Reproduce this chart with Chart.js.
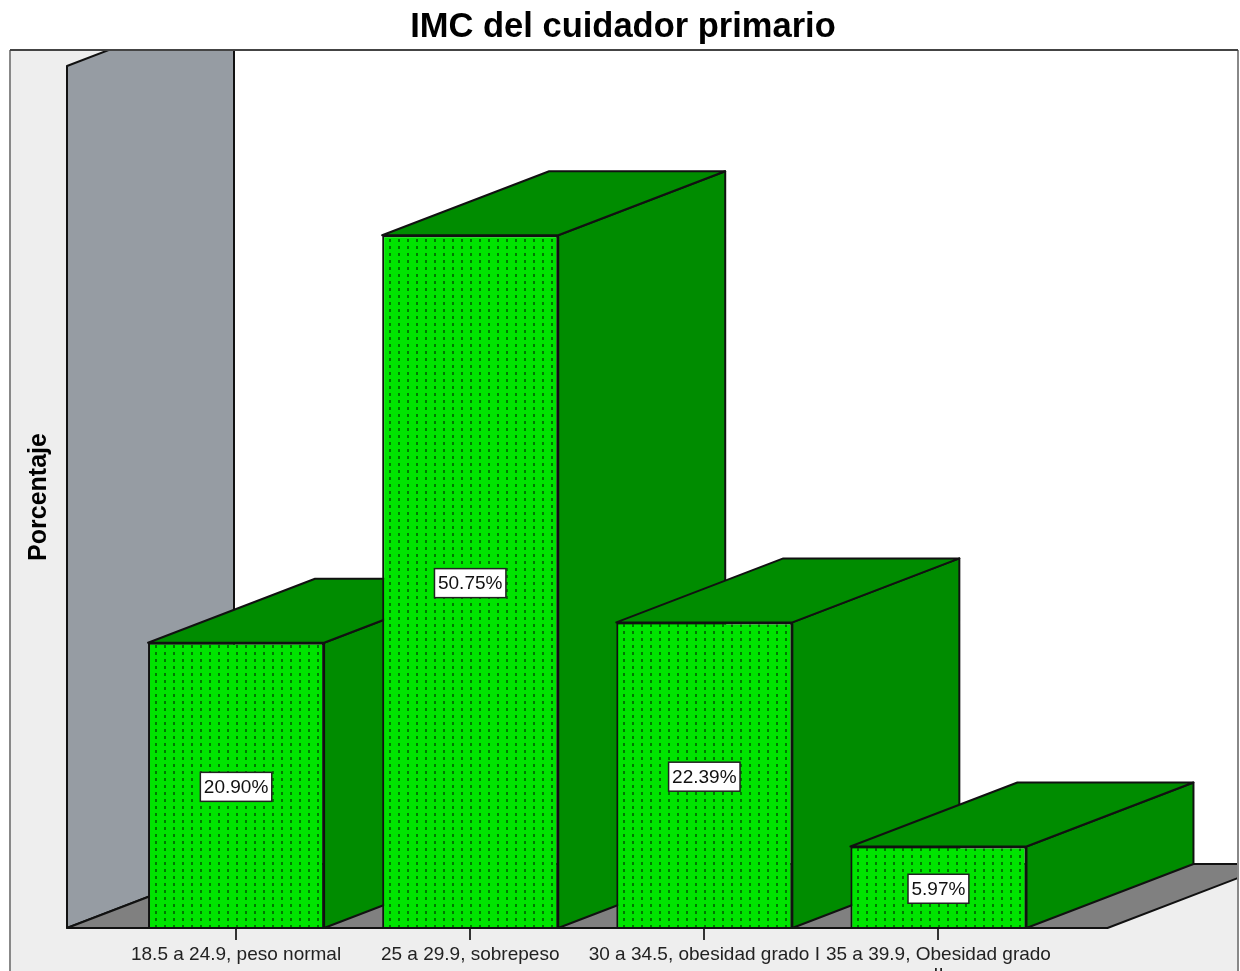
<!DOCTYPE html>
<html>
<head>
<meta charset="utf-8">
<title>IMC del cuidador primario</title>
<script src="https://cdn.jsdelivr.net/npm/chart.js@4"></script>
<style>
  html, body { margin: 0; padding: 0; background: #ffffff; overflow: hidden; }
  canvas { display: block; }
</style>
</head>
<body>
<canvas id="imcChart" width="1240" height="971"></canvas>
<script>
const categories = ['18.5 a 24.9, peso normal', '25 a 29.9, sobrepeso', '30 a 34.5, obesidad grado I', ['35 a 39.9, Obesidad grado', 'II']];
const percentages = [20.90, 50.75, 22.39, 5.97];
const percentLabels = ['20.90%', '50.75%', '22.39%', '5.97%'];

const FONT = '"Liberation Sans", Arial, sans-serif';
const DEPTH_X = 167;
const DEPTH_Y = 64;
const PANEL = { left: 10, top: 50, right: 1238 };

const FRONT_GREEN = '#00e400';
const SIDE_GREEN = '#008c00';
const LINE = '#111111';

// dotted fill of the bar fronts
function dotPattern() {
  const tile = document.createElement('canvas');
  tile.width = 9;
  tile.height = 7;
  const c = tile.getContext('2d');
  c.fillStyle = FRONT_GREEN;
  c.fillRect(0, 0, 9, 7);
  c.fillStyle = '#007800';
  c.fillRect(2, 1, 2, 3);
  return c.createPattern(tile, 'repeat');
}

function poly(ctx, pts, fill) {
  ctx.beginPath();
  pts.forEach((p, i) => i ? ctx.lineTo(p[0], p[1]) : ctx.moveTo(p[0], p[1]));
  ctx.closePath();
  if (fill) { ctx.fillStyle = fill; ctx.fill(); }
  ctx.stroke();
}

const scene = {
  id: 'scene',
  // panel, side wall and floor go under the axes
  beforeDraw(chart) {
    const ctx = chart.ctx;
    const area = chart.chartArea;
    const floorY = chart.scales.y.getPixelForValue(0);
    const h = chart.height;
    const wallX = area.left - 52;
    const floorEnd = area.right + 52;

    ctx.save();
    ctx.fillStyle = '#eeeeee';
    ctx.fillRect(PANEL.left, PANEL.top, PANEL.right - PANEL.left, h - PANEL.top);
    ctx.beginPath();
    ctx.rect(PANEL.left, PANEL.top, PANEL.right - PANEL.left, h - PANEL.top);
    ctx.clip();

    ctx.strokeStyle = LINE;
    ctx.lineWidth = 2;
    ctx.lineJoin = 'round';
    ctx.fillStyle = '#ffffff';
    ctx.fillRect(wallX + DEPTH_X, PANEL.top, PANEL.right - wallX - DEPTH_X, floorY - DEPTH_Y - PANEL.top);

    poly(ctx, [[wallX, floorY], [wallX + DEPTH_X, floorY - DEPTH_Y], [wallX + DEPTH_X, area.top - DEPTH_Y], [wallX, area.top]], '#969ca3');
    poly(ctx, [[wallX, floorY], [floorEnd, floorY], [floorEnd + DEPTH_X, floorY - DEPTH_Y], [wallX + DEPTH_X, floorY - DEPTH_Y]], '#808080');
    ctx.restore();
  },
  // top and side faces of the bars, left to right so nearer ones overlap
  beforeDatasetsDraw(chart) {
    const ctx = chart.ctx;
    ctx.save();
    ctx.strokeStyle = LINE;
    ctx.lineWidth = 2;
    ctx.lineJoin = 'round';
    chart.getDatasetMeta(0).data.forEach(bar => {
      const l = bar.x - bar.width / 2;
      const r = bar.x + bar.width / 2;
      poly(ctx, [[r, bar.y], [r + DEPTH_X, bar.y - DEPTH_Y], [r + DEPTH_X, bar.base - DEPTH_Y], [r, bar.base]], SIDE_GREEN);
      poly(ctx, [[l, bar.y], [l + DEPTH_X, bar.y - DEPTH_Y], [r + DEPTH_X, bar.y - DEPTH_Y], [r, bar.y]], SIDE_GREEN);
    });
    ctx.restore();
  },
  afterDatasetsDraw(chart) {
    const ctx = chart.ctx;
    const floorY = chart.scales.y.getPixelForValue(0);
    ctx.save();
    // baseline along the front of the floor
    ctx.strokeStyle = LINE;
    ctx.lineWidth = 2;
    ctx.beginPath();
    ctx.moveTo(chart.chartArea.left - 52, floorY);
    ctx.lineTo(chart.chartArea.right + 52, floorY);
    ctx.stroke();

    // boxed value labels in the middle of each bar
    ctx.font = '19px ' + FONT;
    ctx.textAlign = 'center';
    ctx.textBaseline = 'middle';
    chart.getDatasetMeta(0).data.forEach((bar, i) => {
      const w = ctx.measureText(percentLabels[i]).width + 7;
      const cy = (bar.y + bar.base) / 2 + 1.5;
      ctx.fillStyle = '#ffffff';
      ctx.strokeStyle = '#222222';
      ctx.lineWidth = 1.5;
      ctx.fillRect(bar.x - w / 2, cy - 14.5, w, 29);
      ctx.strokeRect(bar.x - w / 2, cy - 14.5, w, 29);
      ctx.fillStyle = '#111111';
      ctx.fillText(percentLabels[i], bar.x, cy + 1);
    });
    ctx.restore();
  },
  afterDraw(chart) {
    // panel outline: dark top, grey sides
    const ctx = chart.ctx;
    ctx.save();
    ctx.lineWidth = 2;
    ctx.strokeStyle = '#888888';
    ctx.beginPath();
    ctx.moveTo(PANEL.left, chart.height);
    ctx.lineTo(PANEL.left, PANEL.top);
    ctx.moveTo(PANEL.right, PANEL.top);
    ctx.lineTo(PANEL.right, chart.height);
    ctx.stroke();
    ctx.strokeStyle = '#444444';
    ctx.beginPath();
    ctx.moveTo(PANEL.left, PANEL.top);
    ctx.lineTo(PANEL.right, PANEL.top);
    ctx.stroke();
    ctx.restore();
  }
};

new Chart(document.getElementById('imcChart'), {
  type: 'bar',
  plugins: [scene],
  data: {
    labels: categories,
    datasets: [{
      data: percentages,
      yAxisID: 'y',
      backgroundColor: dotPattern(),
      borderColor: LINE,
      borderWidth: 2,
      barPercentage: 0.752,
      categoryPercentage: 1
    }]
  },
  options: {
    responsive: false,
    animation: false,
    layout: { padding: { left: 6 } },
    plugins: {
      legend: { display: false },
      tooltip: { enabled: false },
      title: {
        display: true,
        text: 'IMC del cuidador primario',
        color: '#000000',
        font: { family: FONT, size: 34.5, weight: 'bold', lineHeight: 1.2 },
        padding: { top: 7, bottom: 17.6 }
      }
    },
    scales: {
      x: {
        grid: { offset: false, drawOnChartArea: false, drawTicks: true, tickLength: 12, tickColor: '#333333', lineWidth: 2 },
        border: { display: false },
        ticks: { color: '#222222', font: { family: FONT, size: 19, lineHeight: 1.08 }, padding: 5, maxRotation: 0, minRotation: 0, autoSkip: false },
        afterFit: s => { s.height = 43; }
      },
      y: {
        min: 0,
        max: 63.15,
        grid: { display: false },
        border: { display: false },
        ticks: { display: false },
        title: {
          display: true,
          text: 'Porcentaje',
          color: '#000000',
          font: { family: FONT, size: 25, weight: 'bold', lineHeight: 1.2 },
          padding: { top: 18, bottom: 0 }
        },
        afterFit: s => { s.width = 113; }
      },
      // empty axis, holds the room the depth of the bars runs into
      depth: {
        position: 'right',
        grid: { display: false },
        border: { display: false },
        ticks: { display: false },
        afterFit: s => { s.width = 184.5; }
      }
    }
  }
});
</script>
</body>
</html>
